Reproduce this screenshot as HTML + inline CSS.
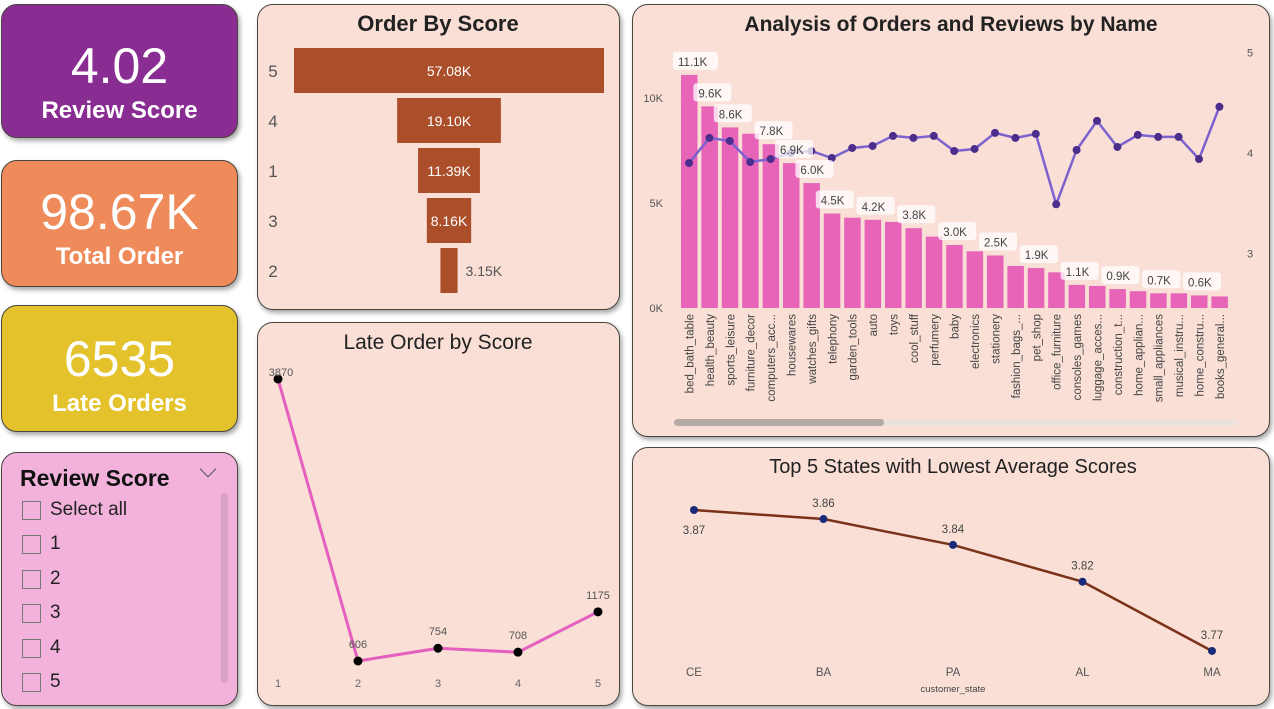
<!DOCTYPE html>
<html><head><meta charset="utf-8"><style>
*{margin:0;padding:0;box-sizing:border-box}
body{width:1274px;height:709px;background:#fff;position:relative;overflow:hidden;font-family:"Liberation Sans",sans-serif}
.p{position:absolute;border:1.5px solid #4a4540;border-radius:16px;box-shadow:2px 3px 5px rgba(0,0,0,.35)}
.peach{background:#f9dfd5}
.kpi{color:#fff;text-align:center;font-weight:bold}
.kpi .v{font-size:50px;font-weight:normal;line-height:1}
.kpi .l{font-size:24px;margin-top:6px}
svg{position:absolute;left:0;top:0}
.sl{position:absolute;left:20px;font-size:19px;color:#222;display:flex;align-items:center}
.sl i{display:inline-block;width:19px;height:19px;border:1.5px solid #777;margin-right:9px}
</style></head><body>
<div class="p kpi" style="left:1px;top:4px;width:237px;height:134px;background:#8a2d92"><div class="v" style="margin-top:36px">4.02</div><div class="l">Review Score</div></div>
<div class="p kpi" style="left:1px;top:160px;width:237px;height:127px;background:#ef8a5b"><div class="v" style="margin-top:26px">98.67K</div><div class="l">Total Order</div></div>
<div class="p kpi" style="left:1px;top:305px;width:237px;height:127px;background:#e4c22c"><div class="v" style="margin-top:28px">6535</div><div class="l">Late Orders</div></div>
<div class="p" style="left:1px;top:452px;width:237px;height:254px;background:#f2b2dc">
 <div style="position:absolute;left:18px;top:12px;font-size:23px;font-weight:bold;color:#111">Review Score</div>
 <div style="position:absolute;left:200px;top:10px;width:12px;height:12px;border-right:1.5px solid #555;border-bottom:1.5px solid #555;transform:rotate(45deg)"></div>
 <div style="position:absolute;left:219px;top:40px;width:7px;height:190px;background:#d9a3c6;border-radius:3px"></div>
 <div class="sl" style="top:46px"><i></i>Select all</div>
 <div class="sl" style="top:80px"><i></i>1</div>
 <div class="sl" style="top:115px"><i></i>2</div>
 <div class="sl" style="top:149px"><i></i>3</div>
 <div class="sl" style="top:184px"><i></i>4</div>
 <div class="sl" style="top:218px"><i></i>5</div>
</div>
<div class="p peach" style="left:257px;top:4px;width:363px;height:306px"></div>
<div class="p peach" style="left:257px;top:322px;width:363px;height:384px"></div>
<div class="p peach" style="left:632px;top:4px;width:638px;height:433px"></div>
<div class="p peach" style="left:632px;top:447px;width:638px;height:259px"></div>
<svg id="s" width="1274" height="709" font-family="Liberation Sans, sans-serif"></svg>
<script>
// Funnel data
const funnelCats=['5','4','1','3','2'];
const funnelVals=[57.08,19.10,11.39,8.16,3.15];
// Late order data
const lateCats=['1','2','3','4','5'];
const lateVals=[3870,606,754,708,1175];
// Orders/reviews by name
const names=['bed_bath_table','health_beauty','sports_leisure','furniture_decor','computers_acc...','housewares','watches_gifts','telephony','garden_tools','auto','toys','cool_stuff','perfumery','baby','electronics','stationery','fashion_bags_...','pet_shop','office_furniture','consoles_games','luggage_acces...','construction_t...','home_applian...','small_appliances','musical_instru...','home_constru...','books_general...'];
const orderK=[11.1,9.6,8.6,8.3,7.8,6.9,5.95,4.5,4.3,4.2,4.1,3.8,3.4,3.0,2.7,2.5,2.0,1.9,1.7,1.1,1.05,0.9,0.8,0.7,0.7,0.6,0.55];
const reviewAvg=[3.9,4.15,4.12,3.91,3.94,4.0,4.02,3.95,4.05,4.07,4.17,4.15,4.17,4.02,4.04,4.2,4.15,4.19,3.49,4.03,4.32,4.06,4.18,4.16,4.16,3.94,4.46];
const barLabels=['11.1K','9.6K','8.6K','','7.8K','6.9K','6.0K','4.5K','','4.2K','','3.8K','','3.0K','','2.5K','','1.9K','','1.1K','','0.9K','','0.7K','','0.6K',''];
const leftTicks=[0,5,10];
const rightTicks=[3,4,5];
// States data
const states=['CE','BA','PA','AL','MA'];
const stateVals=[3.8737,3.8673,3.849,3.823,3.774];
const stateLabels=['3.87','3.86','3.84','3.82','3.77'];

const S=document.getElementById('s');const NS='http://www.w3.org/2000/svg';
function el(t,a,txt){const e=document.createElementNS(NS,t);for(const k in a)e.setAttribute(k,a[k]);if(txt!==undefined)e.textContent=txt;S.appendChild(e);return e;}

// titles
let t;
t=el('text',{x:438,y:31,'text-anchor':'middle','font-size':22,'font-weight':'bold',fill:'#222'},'Order By Score');

t=el('text',{x:438,y:349,'text-anchor':'middle','font-size':21,fill:'#222'},'Late Order by Score');

t=el('text',{x:951,y:31,'text-anchor':'middle','font-size':21,'font-weight':'bold',fill:'#222'},'Analysis of Orders and Reviews by Name');

t=el('text',{x:953,y:473,'text-anchor':'middle','font-size':20,fill:'#222'},'Top 5 States with Lowest Average Scores');


// Funnel
const fMax=Math.max(...funnelVals);
funnelVals.forEach((v,i)=>{
 const w=v/fMax*310, y=48+i*50;
 const r=el('rect',{x:449-w/2,y:y,width:w,height:45,fill:'#ab4e2a'});
 
 const c=el('text',{x:273,y:y+29,'text-anchor':'middle','font-size':17,fill:'#555'},funnelCats[i]);
 
 const inside=w>40;
 const l=el('text',{x:inside?449:449+w/2+8,y:y+28,'text-anchor':inside?'middle':'start','font-size':14,fill:inside?'#fff':'#555'},v.toFixed(2)+'K');
 
});

// Late order line
const lx=i=>278+i*80;
const ly=v=>661-(v-606)*0.0864;
[0,1,2,3,4].forEach(i=>{const g=el('line',{x1:lx(i),y1:365,x2:lx(i),y2:665,stroke:'#ead0c6','stroke-dasharray':'1 3'});});
const lp=el('polyline',{points:lateVals.map((v,i)=>lx(i)+','+ly(v)).join(' '),fill:'none',stroke:'#e45fbf','stroke-width':3});

lateVals.forEach((v,i)=>{
 const d=el('circle',{cx:lx(i),cy:ly(v),r:4.5,fill:'#000'});
 
 const l=el('text',{x:lx(i)+(i==0?3:0),y:ly(v)-(i==0?3:13),'text-anchor':'middle','font-size':11,fill:'#555'},v);
 
 const a=el('text',{x:lx(i),y:687,'text-anchor':'middle','font-size':11,fill:'#666'},lateCats[i]);
 
});

// Combo chart
const bx=i=>681+i*20.4;
const byL=v=>308-v*21;
const byR=v=>153-(v-4)*100.5;
leftTicks.forEach(v=>{
 const g=el('line',{x1:672,y1:byL(v),x2:1235,y2:byL(v),stroke:'#ecc9bf','stroke-dasharray':'1 3'});
 const l=el('text',{x:663,y:byL(v)+4,'text-anchor':'end','font-size':11,fill:'#555'},v+'K');
});
rightTicks.forEach(v=>{
 const l=el('text',{x:1250,y:byR(v)+4,'text-anchor':'middle','font-size':11,fill:'#555'},v);
});
orderK.forEach((v,i)=>{
 const r=el('rect',{x:bx(i),y:byL(v),width:16.5,height:v*21,fill:'#e764b8'});
 
 const n=el('text',{transform:`translate(${bx(i)+12.5},314) rotate(-90)`,'text-anchor':'end','font-size':11.5,fill:'#444'},names[i]);
 
});
const rp=el('polyline',{points:reviewAvg.map((v,i)=>(bx(i)+8)+','+byR(v)).join(' '),fill:'none',stroke:'#7b62cf','stroke-width':2.5});

reviewAvg.forEach((v,i)=>{const d=el('circle',{cx:bx(i)+8,cy:byR(v),r:4,fill:'#4b2e8c'});});
barLabels.forEach((s,i)=>{
 if(!s)return;
 const y=byL(orderK[i])-13;
 const r=el('rect',{x:bx(i)-8,y:y-10,width:s.length*7+10,height:18,rx:3,fill:'#fff','fill-opacity':0.75});
 
 const l=el('text',{x:bx(i)-3,y:y+4,'font-size':11.5,fill:'#444'},s);
 
});
let sb=el('rect',{x:674,y:419,width:564,height:7,rx:3.5,fill:'#ece2dc'});
sb=el('rect',{x:674,y:419,width:210,height:7,rx:3.5,fill:'#b3aaa6'});

// States
const sx=i=>694+i*129.5;
const sy=v=>510+(3.8737-v)*1414;
const sp=el('polyline',{points:stateVals.map((v,i)=>sx(i)+','+sy(v)).join(' '),fill:'none',stroke:'#7a3219','stroke-width':2.5});

stateVals.forEach((v,i)=>{
 const d=el('circle',{cx:sx(i),cy:sy(v),r:4,fill:'#1a2a7a'});
 const below=(i==0);
 const l=el('text',{x:sx(i),y:below?sy(v)+24:sy(v)-12,'text-anchor':'middle','font-size':11.5,fill:'#444'},stateLabels[i]);
 
 const a=el('text',{x:sx(i),y:676,'text-anchor':'middle','font-size':11.5,fill:'#555'},states[i]);
 
});
t=el('text',{x:953,y:692,'text-anchor':'middle','font-size':9.5,fill:'#444'},'customer_state');

</script>
</body></html>
